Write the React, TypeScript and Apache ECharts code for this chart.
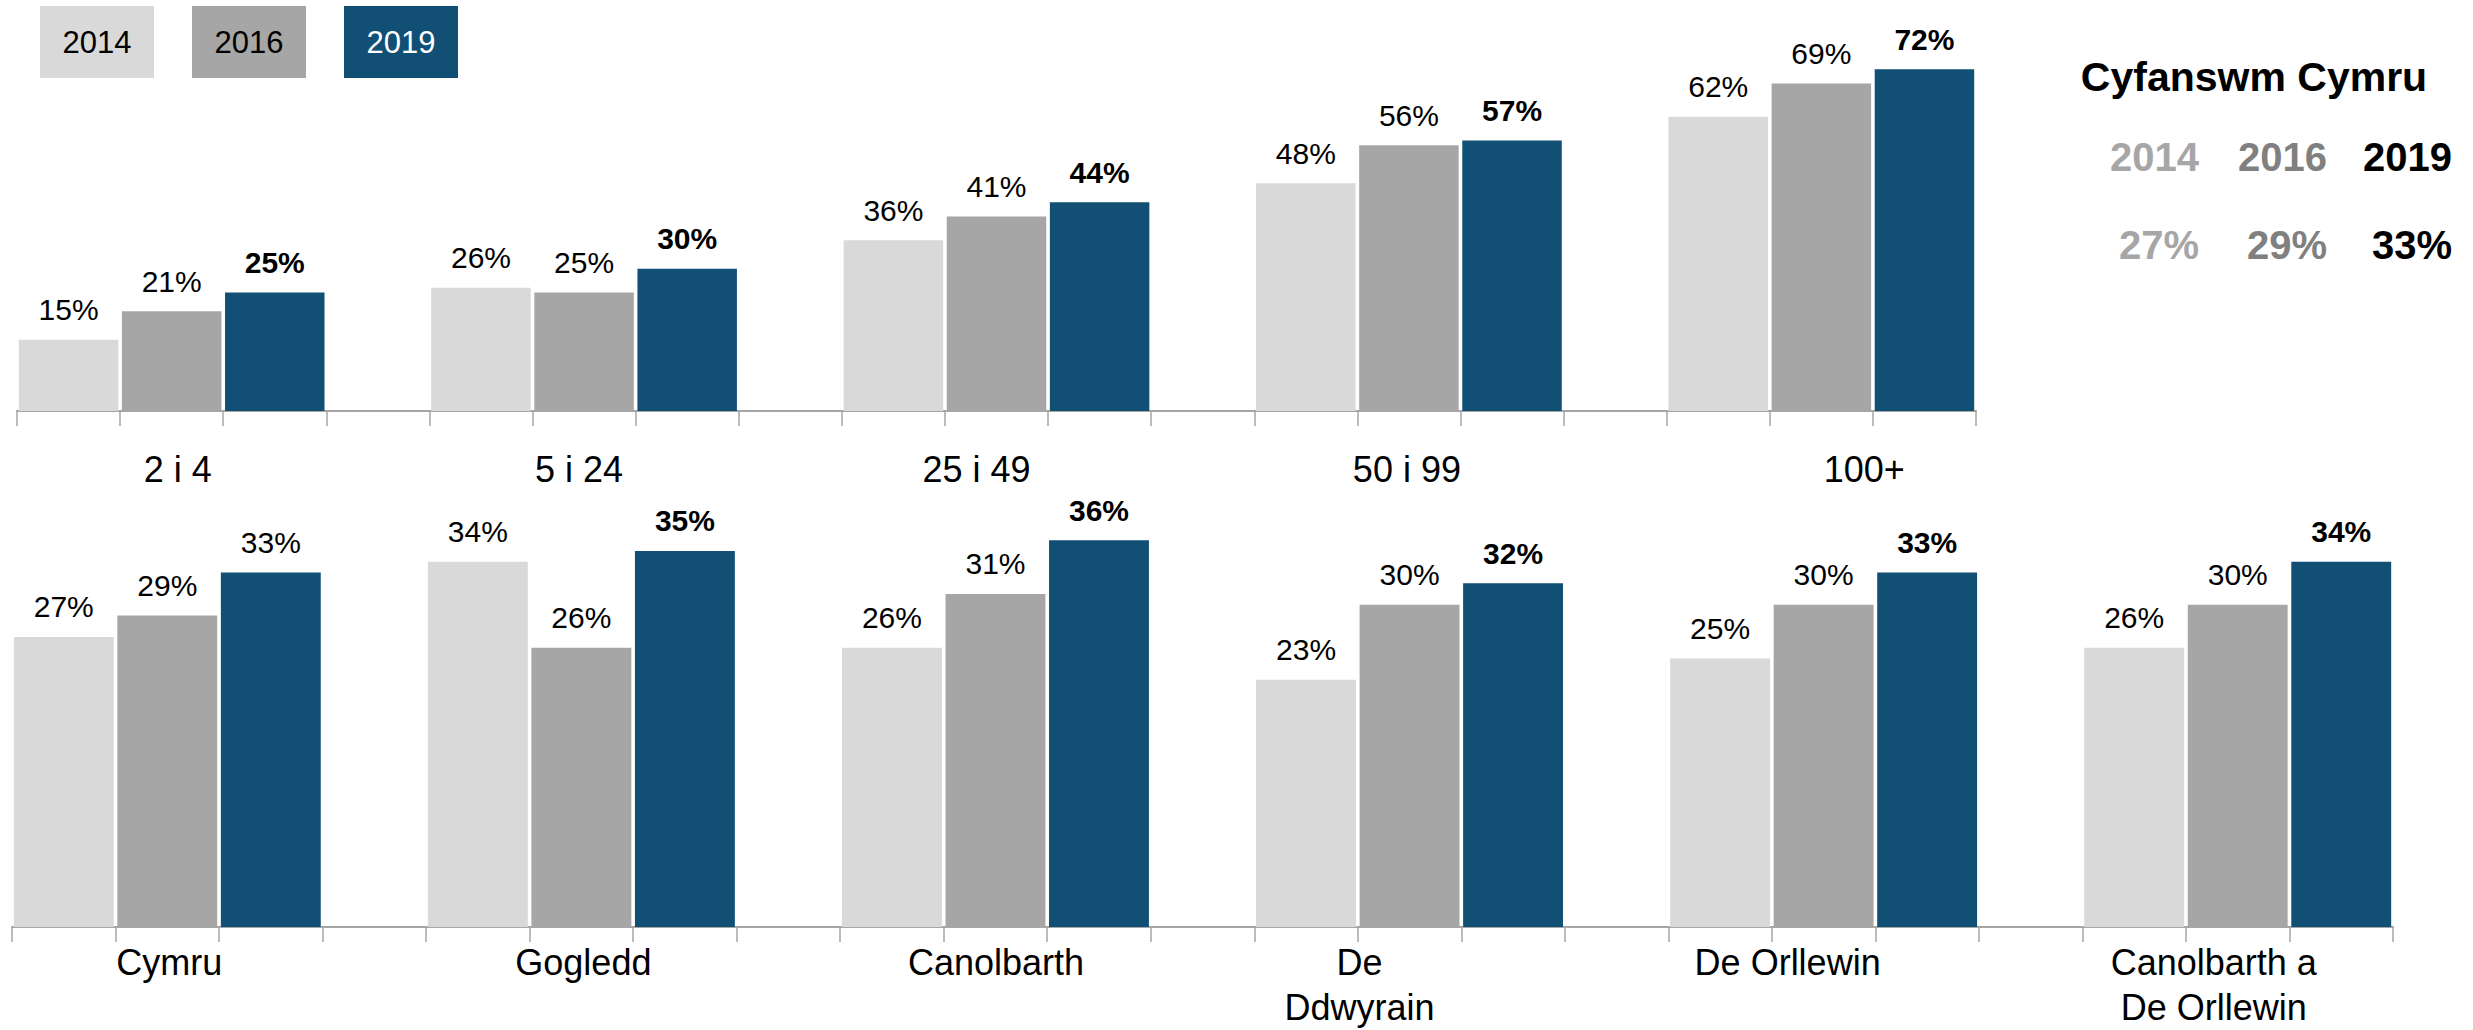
import React, { useEffect, useRef } from "react";
import * as echarts from "echarts";

// ---- Data ----
const years = ["2014", "2016", "2019"];
const sizeBands = ["2 i 4", "5 i 24", "25 i 49", "50 i 99", "100+"];
const size2014 = [15, 26, 36, 48, 62];
const size2016 = [21, 25, 41, 56, 69];
const size2019 = [25, 30, 44, 57, 72];

const regions = ["Cymru", "Gogledd", "Canolbarth", "De\nDdwyrain", "De Orllewin", "Canolbarth a\nDe Orllewin"];
const region2014 = [27, 34, 26, 23, 25, 26];
const region2016 = [29, 26, 31, 30, 30, 30];
const region2019 = [33, 35, 36, 32, 33, 34];

const totalTitle = "Cyfanswm Cymru";
const totalValues = [27, 29, 33];

// ---- Styles ----
const barColors = ["#D9D9D9", "#A6A6A6", "#114F75"];
const legendTextColors = ["#000000", "#000000", "#FFFFFF"];
const totalColors = ["#A6A6A6", "#808080", "#000000"];
const FONT = "'Liberation Sans', Arial, Helvetica, sans-serif";
const topLabelShift = [6, -5, -20, -2, 43];
const bottomLabelShift = [2, 2, 0, -50, -36, -24];
// groups whose latest-year label is not emphasised (the all-Wales group)
const topPlainGroups: number[] = [];
const bottomPlainGroups = [0];

function buildSlots(names: string[], vals: number[][], plainGroups: number[]) {
  const n = names.length * 4 - 1;
  const cats: string[] = Array(n).fill("");
  const groupOfSlot: number[] = Array(n).fill(-1);
  names.forEach((name, g) => {
    cats[g * 4 + 1] = name;
    groupOfSlot[g * 4 + 1] = g;
  });
  const series: any[][] = vals.map(() => Array(n).fill("-"));
  names.forEach((_, g) => {
    vals.forEach((v, s) => {
      const last = s === vals.length - 1;
      const bold = last && plainGroups.indexOf(g) < 0;
      series[s][g * 4 + s] = { value: v[g], label: { fontWeight: bold ? "bold" : "normal" } };
    });
  });
  return { cats, series, groupOfSlot };
}

function shiftedLabel(shifts: number[], groupOfSlot: number[]) {
  const rich: any = {
    t: { width: 320, align: "center", fontSize: 36, lineHeight: 45, fontFamily: FONT, color: "#000" },
  };
  shifts.forEach((s, g) => {
    rich["g" + g] = { width: Math.max(1, Math.abs(2 * s)), fontSize: 36, lineHeight: 45 };
  });
  const formatter = (value: string, index: number) => {
    const g = groupOfSlot[index];
    if (g === undefined || g < 0 || !value) return "";
    const s = shifts[g] || 0;
    const spacer = "{g" + g + "|}";
    return value
      .split("\n")
      .map((line) => (s >= 0 ? spacer + "{t|" + line + "}" : "{t|" + line + "}" + spacer))
      .join("\n");
  };
  return { rich, formatter };
}

export default function App() {
  const ref = useRef<HTMLDivElement>(null);
  useEffect(() => {
    if (!ref.current) return;
    const chart = echarts.init(ref.current, undefined, { renderer: "svg" });

    const topData = buildSlots(sizeBands, [size2014, size2016, size2019], topPlainGroups);
    const botData = buildSlots(regions, [region2014, region2016, region2019], bottomPlainGroups);
    const topLab = shiftedLabel(topLabelShift, topData.groupOfSlot);
    const botLab = shiftedLabel(bottomLabelShift, botData.groupOfSlot);

    const axisCommon = (margin: number, lab: any) => ({
      type: "category" as const,
      boundaryGap: true,
      axisLine: { show: true, lineStyle: { color: "#A6A6A6", width: 2 } },
      axisTick: { show: true, interval: 0, length: 15, lineStyle: { color: "#A6A6A6", width: 1.5 } },
      axisLabel: {
        interval: 0,
        margin,
        fontFamily: FONT,
        fontSize: 36,
        color: "#000",
        lineHeight: 45,
        formatter: lab.formatter,
        rich: lab.rich,
      },
      splitLine: { show: false },
    });

    const makeSeries = (data: any[][], axisIndex: number, stackName: string) =>
      data.map((arr, s) => ({
        type: "bar" as const,
        name: years[s],
        xAxisIndex: axisIndex,
        yAxisIndex: axisIndex,
        stack: stackName,
        data: arr,
        barCategoryGap: "3.5%",
        itemStyle: { color: barColors[s] },
        label: {
          show: true,
          position: "top" as const,
          distance: 15,
          formatter: "{c}%",
          fontFamily: FONT,
          fontSize: 30,
          color: "#000",
        },
      }));

    const graphic: any[] = [];
    years.forEach((y, i) => {
      const x = 40 + i * 152;
      graphic.push({
        type: "rect",
        shape: { x, y: 6, width: 114, height: 72 },
        style: { fill: barColors[i] },
      });
      graphic.push({
        type: "text",
        x: x + 57,
        y: 42,
        style: {
          text: y,
          fontFamily: FONT,
          fontSize: 31,
          fill: legendTextColors[i],
          align: "center",
          verticalAlign: "middle",
        },
      });
    });
    graphic.push({
      type: "text",
      x: 2254,
      y: 77,
      style: {
        text: totalTitle,
        fontFamily: FONT,
        fontSize: 41,
        fontWeight: "bold",
        fill: "#000",
        align: "center",
        verticalAlign: "middle",
      },
    });
    const rightEdges = [2199, 2327, 2452];
    years.forEach((y, i) => {
      graphic.push({
        type: "text",
        x: rightEdges[i],
        y: 157,
        style: {
          text: y,
          fontFamily: FONT,
          fontSize: 40,
          fontWeight: "bold",
          fill: totalColors[i],
          align: "right",
          verticalAlign: "middle",
        },
      });
      graphic.push({
        type: "text",
        x: rightEdges[i],
        y: 245,
        style: {
          text: totalValues[i] + "%",
          fontFamily: FONT,
          fontSize: 40,
          fontWeight: "bold",
          fill: totalColors[i],
          align: "right",
          verticalAlign: "middle",
        },
      });
    });

    const topPxPerUnit = 4.745;
    const botPxPerUnit = 10.77;
    const topMax = 80;
    const botMax = 40;

    chart.setOption({
      animation: false,
      backgroundColor: "#FFFFFF",
      textStyle: { fontFamily: FONT },
      grid: [
        { left: 17, width: 1959, top: 411 - topMax * topPxPerUnit, height: topMax * topPxPerUnit },
        { left: 12, width: 2381, top: 928 - botMax * botPxPerUnit, height: botMax * botPxPerUnit },
      ],
      xAxis: [
        { ...axisCommon(36, topLab), gridIndex: 0, data: topData.cats },
        { ...axisCommon(13, botLab), gridIndex: 1, data: botData.cats },
      ],
      yAxis: [
        { type: "value", gridIndex: 0, min: 0, max: topMax, show: false, splitLine: { show: false } },
        { type: "value", gridIndex: 1, min: 0, max: botMax, show: false, splitLine: { show: false } },
      ],
      series: [...makeSeries(topData.series, 0, "top"), ...makeSeries(botData.series, 1, "bot")],
      graphic,
    });

    return () => chart.dispose();
  }, []);

  return (
    <div
      ref={ref}
      style={{ position: "absolute", left: 0, top: 0, width: "2473px", height: "1030px", background: "#fff" }}
    />
  );
}
